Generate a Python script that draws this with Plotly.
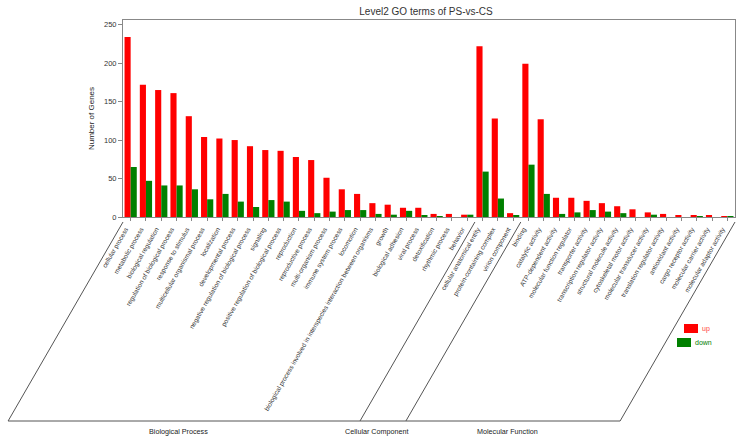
import plotly.graph_objects as go

# ---------------- data ----------------
bp_terms = ["cellular process", "metabolic process", "biological regulation",
            "regulation of biological process", "response to stimulus",
            "multicellular organismal process", "localization", "developmental process",
            "negative regulation of biological process", "signaling",
            "positive regulation of biological process", "reproduction",
            "reproductive process", "multi-organism process", "immune system process",
            "locomotion",
            "biological process involved in interspecies interaction between organisms",
            "growth", "biological adhesion", "viral process", "detoxification",
            "rhythmic process", "behavior"]
bp_up = [234, 172, 165, 161, 131, 104, 102, 100, 92, 87, 86, 78, 74, 51, 36, 30, 18, 16, 12, 12, 4, 4, 3]
bp_down = [65, 47, 41, 41, 36, 23, 30, 20, 13, 22, 20, 8, 5, 7, 9, 9, 4, 3, 8, 2, 1, 0, 3]

cc_terms = ["cellular anatomical entity", "protein-containing complex", "virion component"]
cc_up = [222, 128, 5]
cc_down = [59, 24, 2]

mf_terms = ["binding", "catalytic activity", "ATP-dependent activity",
            "molecular function regulator", "transporter activity",
            "transcription regulator activity", "structural molecule activity",
            "cytoskeletal motor activity", "molecular transducer activity",
            "translation regulator activity", "antioxidant activity",
            "cargo receptor activity", "molecular carrier activity",
            "molecular adaptor activity"]
mf_up = [199, 127, 25, 25, 21, 18, 14, 10, 6, 4, 2, 2, 2, 1]
mf_down = [68, 30, 4, 6, 9, 7, 5, 0, 3, 0, 0, 1, 0, 1]

group_names = ["Biological Process", "Cellular Component", "Molecular Function"]
series_names = ["up", "down"]
y_ticks = [0, 50, 100, 150, 200, 250]

terms = bp_terms + cc_terms + mf_terms
up = bp_up + cc_up + mf_up
down = bp_down + cc_down + mf_down
group_sizes = [len(bp_terms), len(cc_terms), len(mf_terms)]

# ---------------- layout geometry (pixels) ----------------
W, H = 746, 442
L, R, T, B = 123, 11, 20, 225
PW = W - L - R
PH = H - T - B
FONT = "Liberation Sans, Arial, sans-serif"
RED, GREEN = "#ff0000", "#008000"


def px_x(px):
    return (px - L) / PW


def px_y(py):
    return (H - B - py) / PH


x_idx = list(range(len(terms)))

fig = go.Figure()
fig.add_trace(go.Bar(x=x_idx, y=up, name=series_names[0],
                     marker=dict(color=RED, line=dict(width=0)), showlegend=False))
fig.add_trace(go.Bar(x=x_idx, y=down, name=series_names[1],
                     marker=dict(color=GREEN, line=dict(width=0)), showlegend=False))

# group bracket lines (pixel geometry)
TOP_Y = H - B + 5       # start just below axis
BOT_Y = 421             # bottom horizontal line
SLANT = (BOT_Y - TOP_Y) / 1.732
boundaries = [0]
acc = 0
for g in group_sizes:
    acc += g
    boundaries.append(acc)

LINE = dict(color="#555555", width=1)
shapes = []
for b in boundaries:
    bx = L + b / len(terms) * PW
    shapes.append(dict(type="line", xref="paper", yref="paper",
                       x0=px_x(bx), y0=px_y(TOP_Y),
                       x1=px_x(bx - SLANT), y1=px_y(BOT_Y), line=LINE))
shapes.append(dict(type="line", xref="paper", yref="paper",
                   x0=px_x(L - SLANT), x1=px_x(L + PW - SLANT),
                   y0=px_y(BOT_Y), y1=px_y(BOT_Y), line=LINE))

annotations = []
cum = 0
for name, g in zip(group_names, group_sizes):
    left_px = L + cum / len(terms) * PW - SLANT
    right_px = L + (cum + g) / len(terms) * PW - SLANT
    cx = (left_px + right_px) / 2 - 6
    annotations.append(dict(text=name, xref="paper", yref="paper",
                            x=px_x(cx), y=px_y(431), showarrow=False,
                            xanchor="center", yanchor="middle",
                            font=dict(size=7.2, color="#222222", family=FONT)))
    cum += g

# manual legend
legend_items = [(series_names[0], RED, "#ff4040", 684, 698, 328.5),
                (series_names[1], GREEN, GREEN, 677, 691, 342.5)]
for label, fill, tcol, x0, x1, yc in legend_items:
    shapes.append(dict(type="rect", xref="paper", yref="paper",
                       x0=px_x(x0), x1=px_x(x1), y0=px_y(yc - 4.5), y1=px_y(yc + 4.5),
                       fillcolor=fill, line=dict(width=0)))
    annotations.append(dict(text=label, xref="paper", yref="paper",
                            x=px_x(x1 + 1.5), y=px_y(yc), showarrow=False,
                            xanchor="left", yanchor="middle",
                            font=dict(size=7, color=tcol, family=FONT)))

fig.update_layout(
    width=W, height=H,
    margin=dict(l=L, r=R, t=T, b=B, autoexpand=False),
    paper_bgcolor="white", plot_bgcolor="white",
    barmode="group", bargap=0.2, bargroupgap=0,
    title=dict(text="Level2 GO terms of PS-vs-CS", xref="container", x=426 / W,
               xanchor="center", yref="container", y=1 - 11 / H, yanchor="middle",
               font=dict(size=10, color="#333333", family=FONT)),
    showlegend=False,
    shapes=shapes,
    annotations=annotations,
    font=dict(family=FONT),
)

fig.update_xaxes(
    tickmode="array", tickvals=x_idx, ticktext=terms, tickangle=-60,
    range=[-0.5, len(terms) - 0.5],
    tickfont=dict(size=6.5, color="#333333", family=FONT),
    ticklabelshift=-5, ticklabelstandoff=2,
    showline=True, linecolor="#888888", linewidth=1, mirror=True,
    ticks="outside", ticklen=3, tickcolor="#888888",
    showgrid=False, zeroline=False, automargin=False,
)
fig.update_yaxes(
    range=[0, 256], tickmode="array", tickvals=y_ticks,
    tickfont=dict(size=7.5, color="#333333", family=FONT),
    title=dict(text="Number of Genes", font=dict(size=8, color="#222222", family=FONT),
               standoff=8),
    showline=True, linecolor="#888888", linewidth=1, mirror=True,
    ticks="outside", ticklen=4, tickcolor="#888888",
    showgrid=False, zeroline=False, automargin=False,
)

fig.write_html("out.html")
